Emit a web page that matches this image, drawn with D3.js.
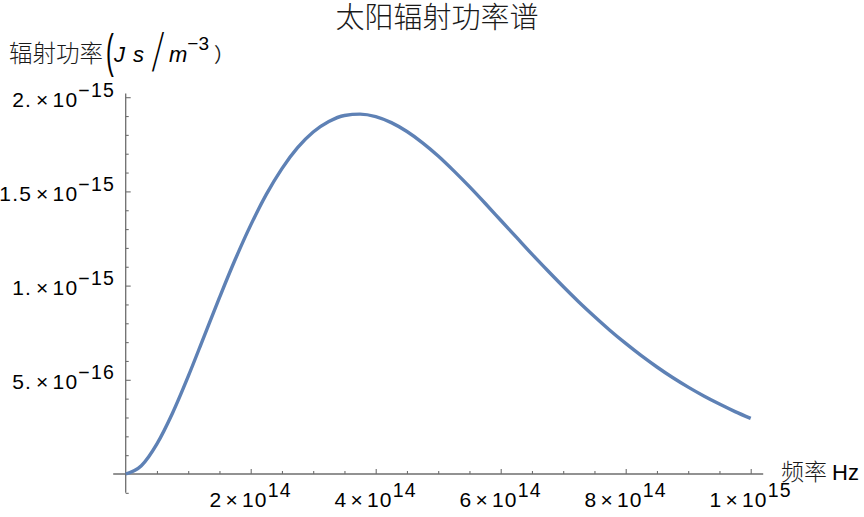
<!DOCTYPE html>
<html><head><meta charset="utf-8">
<script src="https://cdn.jsdelivr.net/npm/d3@7"></script>
<style>
html,body{margin:0;padding:0;background:#fff;}
svg{display:block;font-family:"Liberation Sans",Arial,sans-serif;}
</style></head>
<body><svg id="c" width="864" height="517"></svg>
<script>
// frequency in units of 1e14 Hz, power in units of 1e-16
const freq = [0,0.25,0.5,0.75,1,1.25,1.5,1.75,2,2.25,2.5,2.75,3,3.25,3.5,3.75,4,4.25,4.5,4.75,5,5.25,5.5,5.75,6,6.25,6.5,6.75,7,7.25,7.5,7.75,8,8.25,8.5,8.75,9,9.25,9.5,9.75,10];
const power = [0,0.44,1.60,3.24,5.18,7.27,9.36,11.37,13.21,14.84,16.21,17.32,18.15,18.71,19.03,19.10,18.97,18.65,18.18,17.58,16.88,16.09,15.25,14.37,13.47,12.57,11.67,10.80,9.95,9.13,8.36,7.62,6.93,6.28,5.68,5.12,4.61,4.14,3.71,3.31,2.95];
const xMajor = [2e14,4e14,6e14,8e14,1e15];
const xMajorMant = ["2","4","6","8","1"];
const xMajorExp = ["14","14","14","14","15"];
const xMinor = [0.5e14,1e14,1.5e14,2.5e14,3e14,3.5e14,4.5e14,5e14,5.5e14,6.5e14,7e14,7.5e14,8.5e14,9e14,9.5e14];
const yMajor = [5e-16,1e-15,1.5e-15,2e-15];
const yMajorMant = ["5.","1.","1.5","2."];
const yMajorExp = ["\u221216","\u221215","\u221215","\u221215"];
const yMinor = [-1e-16,1e-16,2e-16,3e-16,4e-16,6e-16,7e-16,8e-16,9e-16,1.1e-15,1.2e-15,1.3e-15,1.4e-15,1.6e-15,1.7e-15,1.8e-15,1.9e-15];
const title = "太阳辐射功率谱";
const xLabelCJK = "频率", xLabelUnit = "Hz";

const svg = d3.select("#c");
const x = d3.scaleLinear().domain([0,1e15]).range([125.7,750.7]);
const y = d3.scaleLinear().domain([0,2e-15]).range([474,97.2]);
const axisColor = "#6e6e6e";
const data = freq.map((f,i)=>({f:f*1e14,p:power[i]*1e-16}));

// axis lines
svg.append("line").attr("x1",x(-0.2e14)).attr("x2",x(1.02e15)).attr("y1",y(0)).attr("y2",y(0))
  .attr("stroke",axisColor).attr("stroke-width",1.3);
svg.append("line").attr("x1",x(0)).attr("x2",x(0)).attr("y1",y(-1e-16)).attr("y2",y(2.02e-15))
  .attr("stroke",axisColor).attr("stroke-width",1.3);

// ticks via d3 axes
function tickAxis(gen, vals, size){
  return gen.tickValues(vals).tickSizeInner(size).tickSizeOuter(0).tickFormat("");
}
const gx1 = svg.append("g").attr("transform",`translate(0,${y(0)})`).call(tickAxis(d3.axisBottom(x),xMajor,-5));
const gx2 = svg.append("g").attr("transform",`translate(0,${y(0)})`).call(tickAxis(d3.axisBottom(x),xMinor,-3));
const gy1 = svg.append("g").attr("transform",`translate(${x(0)},0)`).call(tickAxis(d3.axisLeft(y),yMajor,-5));
const gy2 = svg.append("g").attr("transform",`translate(${x(0)},0)`).call(tickAxis(d3.axisLeft(y),yMinor,-3));
[gx1,gx2,gy1,gy2].forEach(g=>{
  g.select(".domain").remove();
  g.selectAll(".tick line").attr("stroke",axisColor).attr("stroke-width",1.1);
});

// x tick labels
xMajor.forEach((v,i)=>{
  const t = svg.append("text").attr("x",x(v)).attr("y",507).attr("text-anchor","middle")
    .attr("font-size",21).attr("letter-spacing",1.2).attr("fill","#000");
  t.append("tspan").text(xMajorMant[i]);
  t.append("tspan").attr("dx",3).text("\u00d7");
  t.append("tspan").attr("dx",3).text("10");
  t.append("tspan").attr("dy",-10).attr("font-size",19.5).text(xMajorExp[i]);
});
// y tick labels
yMajor.forEach((v,i)=>{
  const t = svg.append("text").attr("x",115).attr("y",y(v)+9.5).attr("text-anchor","end")
    .attr("font-size",21).attr("letter-spacing",1.2).attr("fill","#000");
  t.append("tspan").text(yMajorMant[i]);
  t.append("tspan").attr("dx",4).text("\u00d7");
  t.append("tspan").attr("dx",3).text("10");
  t.append("tspan").attr("dy",-10).attr("font-size",19.5).text(yMajorExp[i]);
});

// curve
svg.append("path").datum(data)
  .attr("d",d3.line().x(d=>x(d.f)).y(d=>y(d.p)).curve(d3.curveMonotoneX))
  .attr("fill","none").attr("stroke","#5E81B5").attr("stroke-width",3.4)
  .attr("stroke-linejoin","round").attr("stroke-linecap","butt");

// title
svg.append("text").attr("x",437).attr("y",28).attr("text-anchor","middle")
  .attr("font-family","'Noto Sans CJK SC',sans-serif").attr("font-size",29).attr("fill","#1a1a1a")
  .attr("font-weight",300).text(title);

// y axis label
const yl = svg.append("g");
yl.append("text").attr("x",9).attr("y",62).attr("font-family","'Noto Sans CJK SC',sans-serif")
  .attr("font-size",23.5).attr("font-weight",300).attr("fill","#1a1a1a").text("辐射功率");
yl.append("text").attr("transform","translate(106,67) scale(0.5,1)").attr("font-size",47)
  .attr("fill","#000").text("(");
yl.append("text").attr("x",114).attr("y",62).attr("font-size",22).attr("font-style","italic").attr("fill","#000").text("J");
yl.append("text").attr("x",133).attr("y",62).attr("font-size",22).attr("font-style","italic").attr("fill","#000").text("s");
yl.append("text").attr("transform","translate(152,71) skewX(-9) scale(0.7,1.8)").attr("font-size",30)
  .attr("fill","#000").text("/");
const ml = yl.append("text").attr("x",169).attr("y",62).attr("font-size",22).attr("fill","#000");
ml.append("tspan").attr("font-style","italic").text("m");
ml.append("tspan").attr("dy",-12).attr("font-size",19).text("\u22123");
yl.append("text").attr("x",214).attr("y",62).attr("font-family","'Noto Sans CJK SC',sans-serif")
  .attr("font-size",20).attr("fill","#1a1a1a").text("）");

// x axis label
const xl = svg.append("text").attr("x",781).attr("y",480).attr("fill","#1a1a1a");
xl.append("tspan").attr("font-family","'Noto Sans CJK SC',sans-serif").attr("font-size",23).attr("font-weight",300).text(xLabelCJK);
xl.append("tspan").attr("dx",5).attr("font-size",22).attr("fill","#000").text(xLabelUnit);
</script></body></html>
